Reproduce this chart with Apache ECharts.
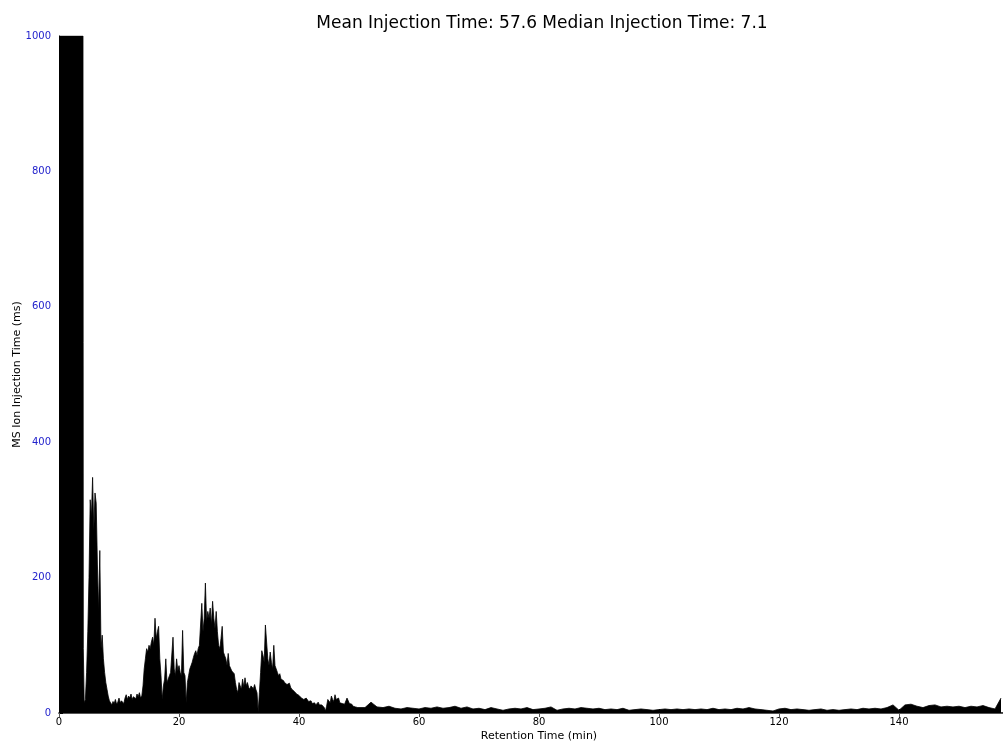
<!DOCTYPE html>
<html>
<head>
<meta charset="utf-8">
<script src="https://cdn.jsdelivr.net/npm/echarts@6/dist/echarts.min.js"></script>
<style>html,body{margin:0;padding:0;background:#fff}#c{width:1003px;height:742px}</style>
</head>
<body>
<div id="c"></div>
<script>
// Early saturated block (times in min, values in ms)
const earlyTimes = [0, 4.0, 4.05];
const earlyValues = [1000, 1000, 95];

// Dense section: starts at 4.2 min, one value every 0.2 min up to 50.0
const denseStart = 4.2;
const denseStep = 0.2;
const denseValues = [
  15,20,60,120,200,315,290,348,270,325,310,220,150,240,95,115,80,60,45,35,
  25,18,15,12,17,14,20,13,16,22,15,18,20,14,22,27,20,25,22,28,
  20,24,26,21,28,24,30,22,25,40,65,80,95,90,100,95,105,112,100,140,
  110,120,128,80,55,20,40,50,80,45,50,55,60,58,112,65,55,80,62,70,
  60,55,122,60,55,15,45,55,65,70,75,82,88,92,85,95,100,98,162,120,
  140,192,135,150,140,155,130,165,140,125,150,120,100,95,110,128,90,85,80,70,
  88,70,72,62,60,58,45,35,30,45,40,35,50,38,52,40,45,38,35,40,
  38,36,42,35,30,2,30,60,92,85,75,130,128,80,70,90,75,65,100,70,
  65,60,55,58,50,52,48,45,46,42,40,44,38,35,36,32,30,28,30,26,
  25,22,24,20,18,22,20,17,15,18,14,16,15,12,14,16,12,10,12,10,
  8,3,10,20,18,15,25,20,17,27,20,18,22,15,17,14,16,13,15,22,
  20,14,12,13,10,11,9,10,8,9
];

// Sparse tail: starts at 51 min, one value per minute up to 157
const tailStart = 51;
const tailStep = 1;
const tailValues = [
  8,16,9,8,10,7,6,8,7,6,8,7,9,7,8,10,7,9,6,7,
  5,8,6,4,6,7,6,8,5,6,7,9,4,6,7,6,8,7,6,7,
  5,6,5,7,4,5,6,5,4,5,6,5,6,5,6,5,6,5,7,5,
  6,5,7,6,8,6,5,4,3,6,7,5,6,5,4,5,6,4,5,4,
  5,6,5,7,6,7,6,8,12,4,12,13,10,8,11,12,9,10,9,10,
  8,10,9,11,8,6,22
];

const xTicks = [0, 20, 40, 60, 80, 100, 120, 140, 160];
const yTicks = [0, 200, 400, 600, 800, 1000];

const data = [];
earlyTimes.forEach((t, i) => data.push([t, earlyValues[i]]));
denseValues.forEach((v, i) => data.push([+(denseStart + i * denseStep).toFixed(2), v]));
tailValues.forEach((v, i) => data.push([tailStart + i * tailStep, v]));

const chart = echarts.init(document.getElementById('c'), null, {renderer: 'canvas'});
const font = 'DejaVu Sans';
chart.setOption({
  animation: false,
  backgroundColor: '#ffffff',
  title: {
    text: 'Mean Injection Time: 57.6 Median Injection Time: 7.1',
    left: 537, top: 10, textAlign: 'center',
    textStyle: {fontFamily: font, fontSize: 17, fontWeight: 'normal', color: '#000'}
  },
  grid: {left: 59, right: -16, top: 36, bottom: 29, containLabel: false, outerBoundsMode: 'none'},
  xAxis: [{
    type: 'value', min: xTicks[0], max: xTicks[xTicks.length - 1], interval: 20,
    name: 'Retention Time (min)', nameLocation: 'middle', nameGap: 18, nameMoveOverlap: false,
    nameTextStyle: {fontFamily: font, fontSize: 11, color: '#000'},
    axisLine: {show: true, onZero: false, lineStyle: {color: '#000', width: 1.5}},
    axisTick: {show: true, inside: true, length: 4, lineStyle: {color: '#000'}},
    axisLabel: {fontFamily: font, fontSize: 10, color: '#000', margin: 4},
    splitLine: {show: false}
  }, {
    type: 'value', position: 'top', min: xTicks[0], max: xTicks[xTicks.length - 1], interval: 20,
    axisLine: {show: true, lineStyle: {color: '#555', width: 1}},
    axisTick: {show: true, inside: true, length: 4, lineStyle: {color: '#555'}},
    axisLabel: {show: false}, splitLine: {show: false}
  }],
  yAxis: {
    type: 'value', min: yTicks[0], max: yTicks[yTicks.length - 1], interval: 200,
    name: 'MS Ion Injection Time (ms)', nameLocation: 'middle', nameGap: 36, nameMoveOverlap: false,
    nameTextStyle: {fontFamily: font, fontSize: 11, color: '#000'},
    axisLine: {show: true, lineStyle: {color: '#000', width: 1}},
    axisTick: {show: true, inside: true, length: 4, lineStyle: {color: '#000'}},
    axisLabel: {fontFamily: font, fontSize: 10, color: '#2222cc', margin: 8, formatter: v => String(v)},
    splitLine: {show: false}
  },
  series: [{
    type: 'line', data: data, xAxisIndex: 0, symbol: 'none', showSymbol: false,
    clip: true, smooth: false,
    lineStyle: {color: '#000', width: 0.8},
    areaStyle: {color: '#000', opacity: 1, origin: 'start'}
  }]
});
</script>
</body>
</html>
